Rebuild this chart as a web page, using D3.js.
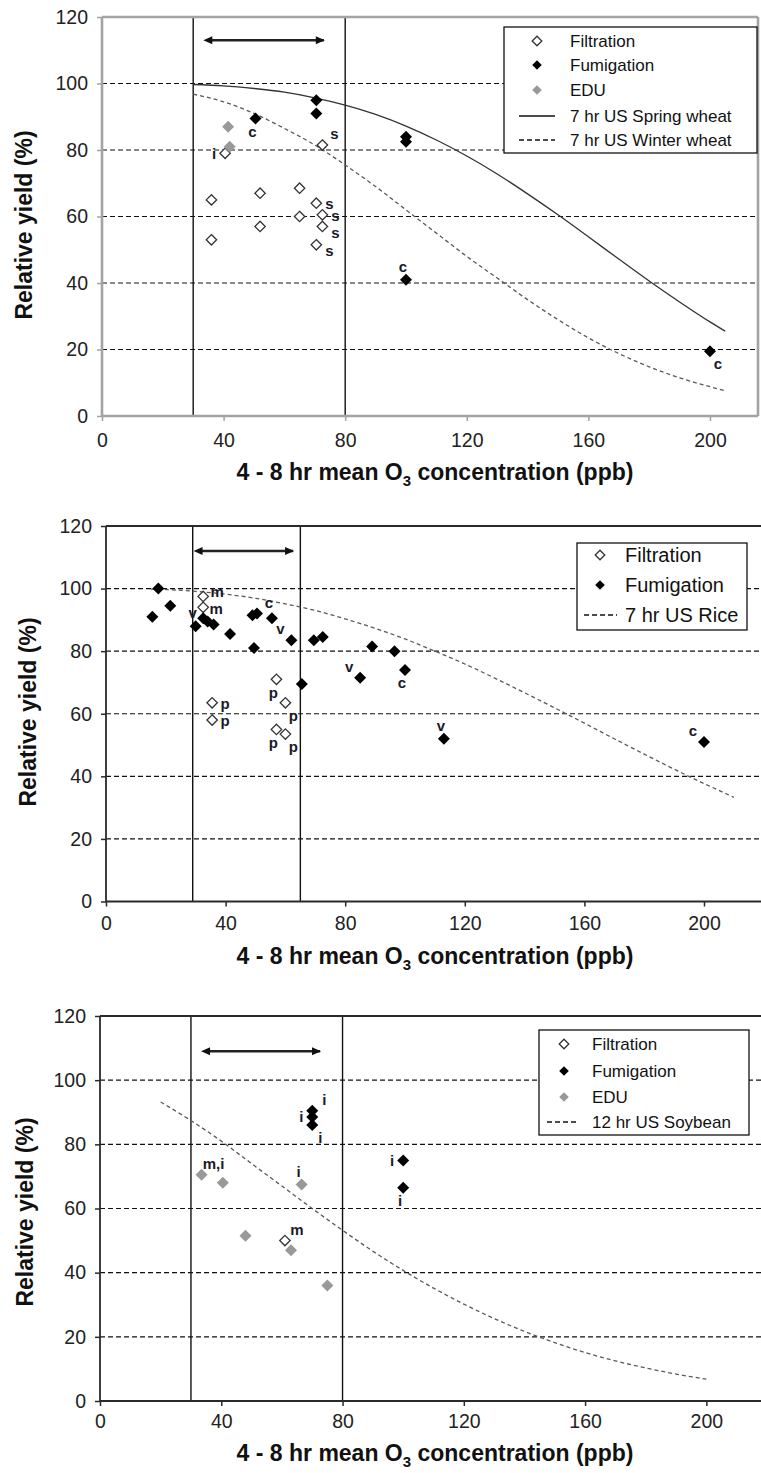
<!DOCTYPE html>
<meta charset="utf-8">
<script src="https://d3js.org/d3.v7.min.js"></script>
<style>
  body { margin: 0; background: #fff; }
  text { font-family: "Liberation Sans", Arial, sans-serif; }
</style>
<svg id="chart" width="761" height="1473"></svg>
<script>

// ---- data ----
var yTicks = [0, 20, 40, 60, 80, 100, 120];
var xTicks = [0, 40, 80, 120, 160, 200];
var gridVals = [20, 40, 60, 80, 100];

// panel 1 : wheat
var wheatBounds = [30, 80];
var wheatArrow = [36, 73, 113];
var wheatFiltration = [[36,65],[36,53],[52,67],[52,57],[65,68.5],[65,60],[70.5,64],[72.5,60.5],[72.5,57],[70.5,51.5],[72.5,81.5],[40.5,79]];
var wheatFumigation = [[50.5,89.5],[70.5,95],[70.5,91],[100,84],[100,82.5],[100,41],[200,19.5]];
var wheatEDU = [[41.5,87],[42,81]];
var wheatLabels = [[72.5,81.5,"s","ar"],[70.5,64,"s","r"],[72.5,60.5,"s","r"],[72.5,57,"s","rb"],[70.5,51.5,"s","rb"],
  [50.5,89.5,"c","b"],[40.5,79,"i","l"],[100,41,"c","a"],[200,19.5,"c","br"]];
var wheatX = [30,40,50,60,70,80,90,100,110,120,130,140,150,160,170,180,190,200,205];
var springWheat = [99.7,99.3,98.5,97.4,95.7,93.5,90.7,87.2,83,78.2,72.8,66.8,60.5,53.9,47.2,40.6,34.3,28.3,25.5];
var winterWheat = [96.8,94.5,91,86.5,81.5,75.5,69,62,55,48,41.5,35,29,23.5,18.8,14.8,11.5,8.8,7.6];

// panel 2 : rice
var riceBounds = [29, 65];
var riceArrow = [32, 62.6, 112];
var riceFiltration = [[32.5,97.5],[32.5,94],[35.5,63.5],[35.5,58],[57,71],[60,63.5],[57,55],[60,53.5]];
var riceFumigation = [[17.5,100],[15.5,91],[21.5,94.5],[30,88],[32.5,90.5],[34,89.5],[36,88.5],[41.5,85.5],[49.5,81],
  [49,91.5],[50.5,92],[55.5,90.5],[62,83.5],[65.5,69.5],[69.5,83.5],[72.5,84.5],[85,71.5],[89,81.5],[96.5,80],
  [100,74],[113,52],[200,51]];
var riceLabels = [[32.5,97.5,"m","rt"],[32.5,94,"m","r"],[35.5,63.5,"p","r"],[35.5,58,"p","r"],[57,71,"p","b"],
  [60,63.5,"p","br"],[57,55,"p","b"],[60,53.5,"p","br"],[30,88,"v","a"],[50.5,92,"c","ar"],[62,83.5,"v","al"],
  [85,71.5,"v","al"],[100,74,"c","b"],[113,52,"v","a"],[200,51,"c","al"]];
var riceX = [15,20,30,40,50,60,70,80,90,100,110,120,130,140,150,160,170,180,190,200,210];
var riceCurve = [99.8,99.7,99.1,98.2,96.9,95.1,93,90.3,87.3,83.9,80,75.9,71.4,66.7,61.9,57,52,47.1,42.3,37.7,33.3];

// panel 3 : soybean
var soyBounds = [30, 80];
var soyArrow = [36, 72.6, 109];
var soyFiltration = [[61,50]];
var soyFumigation = [[70,90.5],[70,88.5],[70,86],[100,75],[100,66.5]];
var soyEDU = [[33.5,70.5],[40.5,68],[66.5,67.5],[48,51.5],[63,47],[75,36]];
var soyLabels = [[70,90.5,"i","ar"],[70,88.5,"i","l"],[70,86,"i","br"],[100,75,"i","l"],[100,66.5,"i","b"],
  [33.5,70.5,"m,i","ar"],[66.5,67.5,"i","a"],[61,50,"m","ar"]];
var soyX = [20,30,40,50,60,70,80,90,100,110,120,130,140,150,160,170,180,190,200];
var soyCurve = [93.2,87.4,81,74,67,60,53.2,46.7,40.7,35.2,30.2,25.7,21.7,18.2,15.1,12.5,10.3,8.4,6.8];

// ---- drawing ----
var svg = d3.select("#chart");

// arrow heads
var defs = svg.append("defs");
["start", "end"].forEach(function(k) {
  defs.append("marker")
    .attr("id", "arr-" + k)
    .attr("markerUnits", "userSpaceOnUse")
    .attr("viewBox", "0 -5 10 10")
    .attr("refX", k == "end" ? 9 : 1).attr("refY", 0)
    .attr("markerWidth", 10).attr("markerHeight", 9)
    .attr("orient", "auto-start-reverse")
    .append("path")
    .attr("d", "M0,-4.5L10,0L0,4.5Z")
    .attr("fill", "#111");
});

// label offsets by placement code
var labelOffset = {
  r: [13, 1], rt: [14, -5], rb: [13, 6], l: [-11, 0], a: [-3, -13], b: [-3, 13],
  ar: [12, -11], al: [-11, -11], br: [8, 13]
};

function diamond(r) {
  return "M0," + (-r) + "L" + r + ",0L0," + r + "L" + (-r) + ",0Z";
}

function drawPanel(p) {
  var x = d3.scaleLinear().domain([0, p.xMax]).range([p.left, p.right]);
  var y = d3.scaleLinear().domain([0, 120]).range([p.bottom, p.top]);
  var g = svg.append("g");

  // horizontal dashed grid
  g.selectAll(".grid")
    .data(gridVals)
    .enter().append("line")
      .attr("x1", x(0)).attr("x2", x(p.xMax))
      .attr("y1", function(d) { return y(d); })
      .attr("y2", function(d) { return y(d); })
      .attr("stroke", "#111")
      .attr("stroke-width", 1.2)
      .attr("stroke-dasharray", "5,3");

  // the two vertical bounds
  g.selectAll(".bound")
    .data(p.bounds)
    .enter().append("line")
      .attr("x1", function(d) { return x(d); })
      .attr("x2", function(d) { return x(d); })
      .attr("y1", y(0)).attr("y2", y(120))
      .attr("stroke", "#111")
      .attr("stroke-width", 1.4);

  // double arrow
  g.append("line")
    .attr("x1", x(p.arrow[0])).attr("x2", x(p.arrow[1]))
    .attr("y1", y(p.arrow[2])).attr("y2", y(p.arrow[2]))
    .attr("stroke", "#222")
    .attr("stroke-width", 2.6)
    .attr("marker-start", "url(#arr-start)")
    .attr("marker-end", "url(#arr-end)");

  // response curves
  p.curves.forEach(function(c) {
    var line = d3.line()
      .x(function(d, i) { return x(c.xs[i]); })
      .y(function(d) { return y(d); })
      .curve(d3.curveMonotoneX);
    g.append("path")
      .datum(c.ys)
      .attr("d", line)
      .attr("fill", "none")
      .attr("stroke", c.dash ? "#5a5a5a" : "#333")
      .attr("stroke-width", 1.3)
      .attr("stroke-dasharray", c.dash ? "4,3" : null);
  });

  // axes
  var yAxis = g.append("g")
    .attr("transform", "translate(" + x(0) + ",0)")
    .call(d3.axisLeft(y).tickValues(yTicks).tickSize(5).tickPadding(9));
  var xAxis = g.append("g")
    .attr("transform", "translate(0," + y(0) + ")")
    .call(d3.axisBottom(x).tickValues(xTicks).tickSize(5).tickPadding(p.xPad));
  [yAxis, xAxis].forEach(function(a) {
    a.select(".domain").remove();
    a.selectAll("line").attr("stroke", p.frame).attr("stroke-width", 1.5);
    a.selectAll("text")
      .style("font-family", "'Liberation Sans', Arial, sans-serif")
      .style("font-size", "19.5px")
      .attr("fill", "#222");
  });

  // frame
  var frame = [[x(0), y(120), x(0), y(0)], [x(0), y(0), x(p.xMax), y(0)], [x(0), y(120), x(p.xMax), y(120)]];
  if (p.rightBorder) frame.push([x(p.xMax), y(120), x(p.xMax), y(0)]);
  g.selectAll(".frame")
    .data(frame)
    .enter().append("line")
      .attr("x1", function(d) { return d[0]; })
      .attr("y1", function(d) { return d[1]; })
      .attr("x2", function(d) { return d[2]; })
      .attr("y2", function(d) { return d[3]; })
      .attr("stroke", p.frame)
      .attr("stroke-width", p.frameWidth);

  // points
  var series = [
    {data: p.filtration, r: 5.2, fill: "#fff", stroke: "#333"},
    {data: p.fumigation, r: 6, fill: "#000", stroke: null},
    {data: p.edu, r: 6, fill: "#999", stroke: null}
  ];
  series.forEach(function(s) {
    g.selectAll(null)
      .data(s.data || [])
      .enter().append("path")
        .attr("d", diamond(s.r))
        .attr("transform", function(d) { return "translate(" + x(d[0]) + "," + y(d[1]) + ")"; })
        .attr("fill", s.fill)
        .attr("stroke", s.stroke)
        .attr("stroke-width", 1.3);
  });

  // point letters
  g.selectAll(".lab")
    .data(p.labels)
    .enter().append("text")
      .attr("x", function(d) { return x(d[0]) + labelOffset[d[3]][0]; })
      .attr("y", function(d) { return y(d[1]) + labelOffset[d[3]][1]; })
      .attr("dy", "0.35em")
      .attr("text-anchor", "middle")
      .style("font-size", "15px")
      .style("font-weight", "bold")
      .attr("fill", "#1a1a2a")
      .text(function(d) { return d[2]; });

  // legend
  var L = p.legend;
  g.append("rect")
    .attr("x", L.x0).attr("y", L.y0)
    .attr("width", L.x1 - L.x0).attr("height", L.y1 - L.y0)
    .attr("fill", "#fff")
    .attr("stroke", "#111")
    .attr("stroke-width", 1.3);
  L.items.forEach(function(it, i) {
    var yy = L.rows[i];
    if (it.type == "line") {
      g.append("line")
        .attr("x1", L.lx0).attr("x2", L.lx1)
        .attr("y1", yy).attr("y2", yy)
        .attr("stroke", "#111")
        .attr("stroke-width", 1.4)
        .attr("stroke-dasharray", it.dash ? "5,3" : null);
    } else {
      g.append("path")
        .attr("d", diamond(4.8))
        .attr("transform", "translate(" + L.mx + "," + yy + ")")
        .attr("fill", it.fill)
        .attr("stroke", it.stroke)
        .attr("stroke-width", 1.3);
    }
    g.append("text")
      .attr("x", L.tx).attr("y", yy)
      .attr("dy", "0.35em")
      .style("font-size", L.size + "px")
      .attr("fill", "#111")
      .text(it.name);
  });

  // axis titles
  var xt = g.append("text")
    .attr("x", 435).attr("y", p.xTitleY)
    .attr("text-anchor", "middle")
    .style("font-size", "23px")
    .style("font-weight", "bold")
    .attr("fill", "#111");
  xt.append("tspan").text("4 - 8 hr mean O");
  xt.append("tspan").attr("dy", 6).style("font-size", "15px").text("3");
  xt.append("tspan").attr("dy", -6).text(" concentration (ppb)");

  g.append("text")
    .attr("transform", "translate(" + p.yTitleX + "," + p.yTitleY + ") rotate(-90)")
    .attr("text-anchor", "middle")
    .style("font-size", "23px")
    .style("font-weight", "bold")
    .attr("fill", "#111")
    .text("Relative yield (%)");
}

var openItem = {name: "Filtration", fill: "#fff", stroke: "#333"};
var fumItem = {name: "Fumigation", fill: "#000", stroke: null};
var eduItem = {name: "EDU", fill: "#999", stroke: null};

drawPanel({
  left: 102, right: 758, top: 17, bottom: 416, xMax: 215.8,
  frame: "#a3a3a3", frameWidth: 2.6, rightBorder: true, xPad: 12.5,
  bounds: wheatBounds, arrow: wheatArrow,
  filtration: wheatFiltration, fumigation: wheatFumigation, edu: wheatEDU, labels: wheatLabels,
  curves: [{xs: wheatX, ys: springWheat, dash: false}, {xs: wheatX, ys: winterWheat, dash: true}],
  legend: {x0: 504, x1: 757, y0: 27, y1: 153, rows: [41, 65, 90, 116, 140], mx: 537, tx: 570, lx0: 519, lx1: 555, size: 17,
    items: [openItem, fumItem, eduItem, {name: "7 hr US Spring wheat", type: "line", dash: false},
      {name: "7 hr US Winter wheat", type: "line", dash: true}]},
  xTitleY: 480, yTitleX: 32, yTitleY: 225
});

drawPanel({
  left: 106, right: 763.8, top: 526, bottom: 901.5, xMax: 220,
  frame: "#2a2a2a", frameWidth: 1.8, rightBorder: false, xPad: 9.5,
  bounds: riceBounds, arrow: riceArrow,
  filtration: riceFiltration, fumigation: riceFumigation, edu: [], labels: riceLabels,
  curves: [{xs: riceX, ys: riceCurve, dash: true}],
  legend: {x0: 577, x1: 747, y0: 543, y1: 630, rows: [555, 585, 615], mx: 600, tx: 625, lx0: 584, lx1: 617, size: 20,
    items: [openItem, fumItem, {name: "7 hr US Rice", type: "line", dash: true}]},
  xTitleY: 964, yTitleX: 36, yTitleY: 712
});

drawPanel({
  left: 100, right: 767, top: 1016, bottom: 1401, xMax: 220,
  frame: "#2a2a2a", frameWidth: 1.8, rightBorder: false, xPad: 8.5,
  bounds: soyBounds, arrow: soyArrow,
  filtration: soyFiltration, fumigation: soyFumigation, edu: soyEDU, labels: soyLabels,
  curves: [{xs: soyX, ys: soyCurve, dash: true}],
  legend: {x0: 539, x1: 749, y0: 1030, y1: 1135, rows: [1044, 1071, 1097, 1122], mx: 564, tx: 592, lx0: 547, lx1: 579, size: 17,
    items: [openItem, fumItem, eduItem, {name: "12 hr US Soybean", type: "line", dash: true}]},
  xTitleY: 1461, yTitleX: 33, yTitleY: 1212
});

</script>
